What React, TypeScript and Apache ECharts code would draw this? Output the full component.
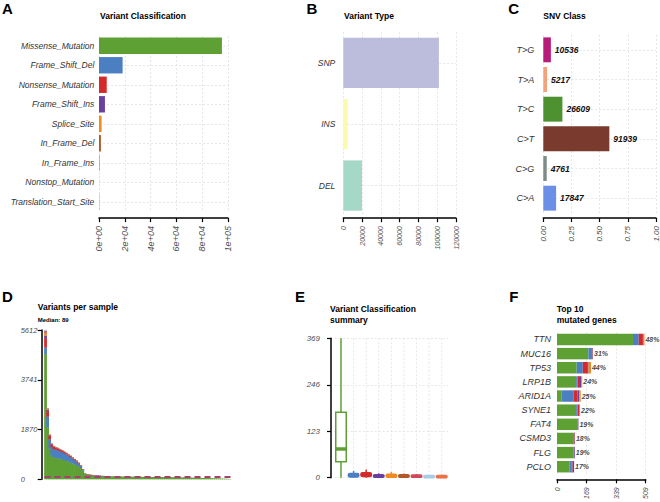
import React, { useEffect, useRef } from 'react';
import * as echarts from 'echarts';

const FONT = '"Liberation Sans", Arial, Helvetica, sans-serif';
const CAT_COL = '#333333';
const TICK_COL = '#4d4d4d';
const GRID_COL = '#e0e0e0';

// ---------- Panel A: Variant Classification ----------
const vcCategories = [
  'Missense_Mutation', 'Frame_Shift_Del', 'Nonsense_Mutation', 'Frame_Shift_Ins',
  'Splice_Site', 'In_Frame_Del', 'In_Frame_Ins', 'Nonstop_Mutation', 'Translation_Start_Site',
];
const vcCounts = [95300, 18300, 6000, 4600, 2000, 1500, 350, 120, 250];
const vcColors = ['#5fa035', '#4b7fc2', '#d42a2c', '#6b3f9e', '#f08a1f', '#b05a2a', '#d0485c', '#a8cce4', '#ec714a'];
const aTicks = [0, 20000, 40000, 60000, 80000, 100000];

// ---------- Panel B: Variant Type ----------
const vtCategories = ['SNP', 'INS', 'DEL'];
const vtCounts = [101800, 4700, 19900];
const vtColors = ['#bcbcdc', '#fbfbae', '#a5d8c6'];

// ---------- Panel C: SNV Class ----------
const snvCategories = ['T>G', 'T>A', 'T>C', 'C>T', 'C>G', 'C>A'];
const snvCounts = [10536, 5217, 26609, 91939, 4761, 17847];
const snvColors = ['#b61c78', '#f3a27c', '#4e9131', '#7a3b2e', '#7c8a8a', '#6b8fe6'];

// ---------- Panel D: Variants per sample ----------
const dMedian = 89;
const dMax = 5612;
const dMissense = [
  4700, 1950, 1150, 880, 820, 800, 790, 770, 750, 720,
  690, 660, 620, 590, 560, 530, 480, 420, 320, 185,
  165, 155, 146, 139, 132, 126, 121, 117, 115, 113,
  111, 109, 107, 105, 104, 102, 100, 98, 97, 96,
  94, 93, 92, 90, 89, 88, 87, 86, 85, 84,
  83, 82, 81, 80, 79, 78, 77, 76, 75, 74,
  73, 72, 71, 70, 68, 66, 64, 62, 60, 58,
  56, 54, 52, 50, 48, 46, 44, 42, 40, 38,
  36, 33, 30, 27, 24, 21, 18, 14, 10, 6,
];
const dFSDel = [250, 400, 350, 330, 320, 310, 300, 290, 275, 260, 245, 230, 210, 185, 160, 135, 110, 78, 45, 16, 13, 10, 8, 7, 6, 5, 4, 3, 3, 2];
const dNonsense = [350, 200, 120, 80, 70, 60, 55, 50, 45, 42, 40, 38, 36, 32, 30, 26, 22, 16, 10, 6, 5, 4, 4, 3, 3, 2, 2, 2, 1, 1];
const dFSIns = [100, 60, 30, 25, 20, 20, 15, 12, 12, 10, 8, 6, 8, 8, 6, 5, 5, 4, 3, 2, 1, 1, 1, 1, 1, 1, 1];
const dSplice = [80, 40, 20, 15, 10, 10, 10, 8, 8, 8, 7, 6, 6, 5, 4, 4, 3, 2, 2, 1, 1, 1, 1, 1, 1];
const dInFrameDel = [40, 10, 5, 4, 3, 3, 2, 2, 2, 2, 1, 1, 1, 1];
const dInFrameIns = [50, 6, 3, 2, 2, 1, 1];
const dNonstop = [42, 4, 2, 1];
const dSamples = dMissense.map((_, i) => `S${i + 1}`);
const dLayers = [dMissense, dFSDel, dNonsense, dFSIns, dSplice, dInFrameDel, dInFrameIns, dNonstop];

// ---------- Panel E: Variant Classification summary ----------
// [min, Q1, median, Q3, max]
const boxStats = [
  [0, 42, 76, 173, 369],
  [0, 2, 6, 11, 18],
  [0, 3, 7, 13, 22],
  [0, 1, 3, 8, 12],
  [0, 1, 4, 9, 15],
  [0, 1, 3, 8, 11],
  [0, 1, 2, 7, 10],
  [0, 0, 1, 6, 8],
  [0, 0, 1, 6, 8],
];
const eMax = 369;

// ---------- Panel F: Top 10 mutated genes ----------
const genes = ['TTN', 'MUC16', 'TP53', 'LRP1B', 'ARID1A', 'SYNE1', 'FAT4', 'CSMD3', 'FLG', 'PCLO'];
const genePct = ['48%', '31%', '44%', '24%', '25%', '22%', '19%', '18%', '19%', '17%'];
const geneMissense = [436, 180, 113, 110, 25, 110, 116, 94, 94, 71];
const geneFSDel = [33, 15, 35, 9, 71, 8, 1, 0, 1, 13];
const geneNonsense = [24, 2, 25, 13, 21, 9, 3, 7, 2, 5];
const geneFSIns = [4, 8, 8, 8, 11, 3, 3, 2, 5, 9];
const geneSplice = [5, 2, 14, 5, 8, 2, 0, 0, 0, 0];
const fMax = 509;

const sciFmt = (v: number) => {
  if (v === 0) return '0e+00';
  const e = Math.floor(Math.log10(v) + 1e-9);
  const m = Math.round(v / Math.pow(10, e));
  return `${m}e+${String(e).padStart(2, '0')}`;
};

function valueXAxis(gridIndex: number, max: number, interval: number, fontSize: number, offset: number, formatter: any) {
  return {
    type: 'value', gridIndex, min: 0, max, interval, offset, position: 'bottom',
    axisLine: { show: true, onZero: false, lineStyle: { color: '#000', width: 1.5 } },
    axisTick: { show: true, length: 4, lineStyle: { color: '#000', width: 1.2 } },
    axisLabel: {
      rotate: 90, margin: 8, fontSize, fontStyle: 'italic', color: TICK_COL, fontFamily: FONT,
      formatter, showMinLabel: true, showMaxLabel: true,
    },
    splitLine: { show: true, lineStyle: { color: GRID_COL, type: [2, 2], width: 0.8 } },
  };
}

function catYAxis(gridIndex: number, data: string[], fontSize: number, margin: number) {
  return {
    type: 'category', gridIndex, data, inverse: true,
    axisLine: { show: false }, axisTick: { show: false }, splitLine: { show: false },
    axisLabel: { fontSize, fontStyle: 'italic', color: CAT_COL, fontFamily: FONT, margin },
  };
}

function valueYAxis(
  gridIndex: number, max: number, interval: number, offset: number, fontSize: number,
  split: boolean, align: string, margin: number,
) {
  return {
    type: 'value', gridIndex, min: 0, max, interval, offset, position: 'left',
    axisLine: { show: true, onZero: false, lineStyle: { color: '#000', width: 1.5 } },
    axisTick: { show: true, length: 4, lineStyle: { color: '#000', width: 1.2 } },
    axisLabel: {
      fontSize, fontStyle: 'italic', color: TICK_COL, fontFamily: FONT, margin, align,
      formatter: (v: number) => String(Math.floor(v + 1e-6)), showMinLabel: true, showMaxLabel: true,
    },
    splitLine: { show: split, lineStyle: { color: GRID_COL, type: [2, 2], width: 0.8 } },
  };
}

const hLines = (n: number) => ({
  silent: true, symbol: 'none', z: 1,
  label: { show: false },
  lineStyle: { color: GRID_COL, type: [2, 2], width: 0.8 },
  data: Array.from({ length: n }, (_, i) => ({ yAxis: i })),
});

const text = (x: number, y: number, t: string, size: number) => ({
  type: 'text', x, y, silent: true,
  style: { text: t, fontSize: size, fontWeight: 'bold', fontFamily: FONT, fill: '#000', verticalAlign: 'middle', align: 'left' },
});

const snvTotal = snvCounts.reduce((a, b) => a + b, 0);
const geneTotals = genes.map((_, i) => geneMissense[i] + geneFSDel[i] + geneNonsense[i] + geneFSIns[i] + geneSplice[i]);

function buildOption(): any {
  const fSeriesDefs: [string, number[], string][] = [
    ['Missense_Mutation', geneMissense, vcColors[0]],
    ['Frame_Shift_Del', geneFSDel, vcColors[1]],
    ['Nonsense_Mutation', geneNonsense, vcColors[2]],
    ['Frame_Shift_Ins', geneFSIns, vcColors[3]],
    ['Splice_Site', geneSplice, vcColors[4]],
  ];

  return {
    animation: false,
    textStyle: { fontFamily: FONT },
    grid: [
      { left: 99, width: 129, top: 36, height: 175.6 },
      { left: 343.3, width: 112.7, top: 32.2, height: 184 },
      { left: 543.3, width: 112.7, top: 35, height: 178 },
      { left: 44.5, width: 186.5, top: 330, height: 149.3 },
      { left: 334.7, width: 113.3, top: 338.3, height: 139.4 },
      { left: 557, width: 88.7, top: 332.4, height: 141.4 },
    ],
    xAxis: [
      valueXAxis(0, aTicks[aTicks.length - 1], 20000, 9, 6.5, sciFmt),
      valueXAxis(1, 120000, 20000, 7, 2, (v: number) => String(v)),
      valueXAxis(2, 1, 0.25, 8, 5, (v: number) => v.toFixed(2)),
      { type: 'category', gridIndex: 3, data: dSamples, show: false },
      { type: 'category', gridIndex: 4, data: vcCategories, show: false },
      valueXAxis(5, fMax, fMax / 3, 7, 5.5, (v: number) => String(Math.floor(v + 1e-6))),
    ],
    yAxis: [
      catYAxis(0, vcCategories, 8.5, 4.7),
      catYAxis(1, vtCategories, 8.5, 8),
      catYAxis(2, snvCategories, 9, 9),
      valueYAxis(3, dMax, dMax / 3, 2.8, 7.5, false, 'left', 21),
      valueYAxis(4, eMax, eMax / 3, 3.7, 8, true, 'right', 11),
      catYAxis(5, genes, 9, 6),
    ],
    graphic: [
      text(2, 8.5, 'A', 15),
      text(306.5, 8.8, 'B', 15),
      text(508.3, 8.8, 'C', 15),
      text(2, 296.7, 'D', 15),
      text(295, 296.2, 'E', 15),
      text(509.3, 296.7, 'F', 15),
      text(100, 15.7, 'Variant Classification', 8.5),
      text(344, 15.7, 'Variant Type', 8.5),
      text(543.3, 15.7, 'SNV Class', 8.5),
      text(37.7, 307, 'Variants per sample', 8.5),
      text(37.7, 320, `Median: ${dMedian}`, 6),
      text(330, 309.3, 'Variant Classification', 8.5),
      text(330, 320, 'summary', 8.5),
      text(556.7, 309.3, 'Top 10', 8.5),
      text(556.7, 320, 'mutated genes', 8.5),
    ],
    series: [
      {
        type: 'bar', xAxisIndex: 0, yAxisIndex: 0, barCategoryGap: '16%',
        data: vcCounts.map((v, i) => ({ value: v, itemStyle: { color: vcColors[i] } })),
        markLine: hLines(vcCategories.length),
      },
      {
        type: 'bar', xAxisIndex: 1, yAxisIndex: 1, barCategoryGap: '18%',
        data: vtCounts.map((v, i) => ({ value: v, itemStyle: { color: vtColors[i] } })),
        markLine: hLines(vtCategories.length),
      },
      {
        type: 'bar', xAxisIndex: 2, yAxisIndex: 2, barCategoryGap: '16%',
        data: snvCounts.map((v, i) => ({ value: v / snvTotal, itemStyle: { color: snvColors[i] } })),
        label: {
          show: true, position: 'right', distance: 4,
          formatter: (p: any) => String(snvCounts[p.dataIndex]),
          fontSize: 8.5, fontWeight: 'bold', fontStyle: 'italic', color: '#111', fontFamily: FONT,
        },
        markLine: hLines(snvCategories.length),
      },
      // Panel D: stacked per-sample bars drawn as touching rectangles
      {
        type: 'custom', xAxisIndex: 3, yAxisIndex: 3,
        data: dSamples.map((_, i) => [i, 0]),
        encode: { x: 0, y: 1 },
        renderItem: (params: any, api: any) => {
          const i = api.value(0);
          const bw = api.size([1, 0])[0];
          const children: any[] = [];
          let acc = 0;
          for (let k = 0; k < dLayers.length; k++) {
            const v = dLayers[k][i] || 0;
            if (!v) continue;
            const p0 = api.coord([i, acc]);
            const p1 = api.coord([i, acc + v]);
            children.push({
              type: 'rect',
              shape: { x: p0[0] - bw / 2 - 0.35, y: p1[1] - 0.2, width: bw + 0.7, height: p0[1] - p1[1] + 0.2 },
              style: { fill: vcColors[k] },
            });
            acc += v;
          }
          return { type: 'group', children };
        },
      },
      {
        type: 'line', xAxisIndex: 3, yAxisIndex: 3, data: [], showSymbol: false,
        markLine: {
          silent: true, symbol: 'none', z: 10, label: { show: false },
          lineStyle: { color: '#a83f6e', type: [6, 4], width: 2 },
          data: [{ yAxis: dMedian }],
        },
      },
      {
        type: 'custom', xAxisIndex: 4, yAxisIndex: 4,
        data: boxStats.map((s, i) => [i, ...s]),
        encode: { x: 0, y: [1, 2, 3, 4, 5] },
        renderItem: (params: any, api: any) => {
          const i = api.value(0);
          const [x, yMin] = api.coord([i, api.value(1)]);
          const yQ1 = api.coord([i, api.value(2)])[1];
          const yMed = api.coord([i, api.value(3)])[1];
          const yQ3 = api.coord([i, api.value(4)])[1];
          const yMax = api.coord([i, api.value(5)])[1];
          const cs = params.coordSys;
          const col = vcColors[i];
          const first = i === 0;
          const bw = 10.5;
          return {
            type: 'group',
            children: [
              {
                type: 'line', silent: true,
                shape: { x1: x, y1: cs.y, x2: x, y2: cs.y + cs.height },
                style: { stroke: GRID_COL, lineWidth: 0.8, lineDash: [2, 2] },
              },
              { type: 'line', shape: { x1: x, y1: yMin, x2: x, y2: yMax }, style: { stroke: col, lineWidth: 1.5 } },
              {
                type: 'rect',
                shape: { x: x - bw / 2, y: yQ3, width: bw, height: Math.max(yQ1 - yQ3, 1), r: first ? 0 : 1.5 },
                style: { fill: first ? '#ffffff' : col, stroke: col, lineWidth: 1.5 },
              },
              {
                type: 'line', shape: { x1: x - bw / 2, y1: yMed, x2: x + bw / 2, y2: yMed },
                style: { stroke: col, lineWidth: first ? 3.5 : 1.5 },
              },
            ],
          };
        },
      },
      ...fSeriesDefs.map(([name, arr, color]) => ({
        type: 'bar', name, xAxisIndex: 5, yAxisIndex: 5, stack: 'f', barCategoryGap: '19%',
        data: arr, itemStyle: { color },
      })),
      {
        type: 'scatter', xAxisIndex: 5, yAxisIndex: 5, symbolSize: 1,
        itemStyle: { color: 'rgba(0,0,0,0)' },
        data: genes.map((_, i) => [geneTotals[i], i]),
        label: {
          show: true, position: 'right', distance: 0.5,
          formatter: (p: any) => genePct[p.dataIndex],
          fontSize: 7, fontWeight: 'bold', fontStyle: 'italic', color: '#111', fontFamily: FONT,
        },
        z: 5,
      },
    ],
  };
}

export default function App() {
  const ref = useRef<HTMLDivElement>(null);
  useEffect(() => {
    if (!ref.current) return;
    const chart = echarts.init(ref.current, null, { renderer: 'svg' });
    chart.setOption(buildOption());
    return () => chart.dispose();
  }, []);
  return (
    <div
      ref={ref}
      style={{ position: 'absolute', left: 0, top: 0, width: 660, height: 502, background: '#fff' }}
    />
  );
}
